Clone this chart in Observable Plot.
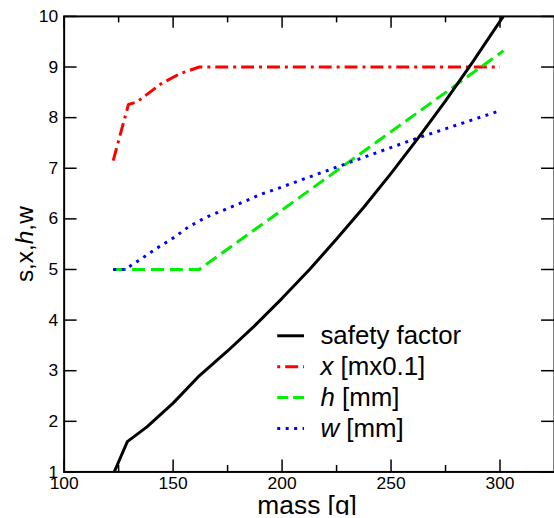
<!DOCTYPE html>
<html><head><meta charset="utf-8">
<script src="https://cdn.jsdelivr.net/npm/d3@7"></script>
<script src="https://cdn.jsdelivr.net/npm/@observablehq/plot@0.6"></script>
<style>html,body{margin:0;padding:0;overflow:hidden;background:#fff;width:554px;height:518px}</style>
</head><body><div id="chart"></div>
<script>
// ---- data ----
const sfMass  = [123, 126, 129, 138, 150, 162, 175, 187, 200, 212.6, 225, 237.5, 250, 262.5, 275, 287.5, 301.5];
const sfValue = [1.0, 1.3, 1.6, 1.89, 2.36, 2.9, 3.39, 3.87, 4.43, 5.0, 5.6, 6.23, 6.9, 7.6, 8.33, 9.1, 10.0];

const xMass  = [122.5, 129.5, 133.4, 144.5, 153.2, 162, 300];
const xValue = [7.15, 8.26, 8.31, 8.67, 8.87, 9.0, 9.0];

const hMass  = [122.5, 162, 301.6];
const hValue = [5.0, 5.0, 9.32];

const wMass  = [122.5, 128, 135, 142.5, 150, 157, 165, 173, 182, 190, 198, 230, 261, 299.5];
const wValue = [5.0, 5.0, 5.2, 5.42, 5.62, 5.84, 6.03, 6.17, 6.33, 6.48, 6.6, 7.1, 7.58, 8.13];

const xMajorTicks = [100, 150, 200, 250, 300];
const xMinorTicks = [125, 175, 225, 275];
const yTicks = [1, 2, 3, 4, 5, 6, 7, 8, 9, 10];

const legendLabels = ["safety factor", "x [mx0.1]", "h [mm]", "w [mm]"];
const xLabel = "mass [g]";
const yLabel = "s,x,h,w";

// ---- layout ----
const W = 557, H = 518, mL = 64, mR = 0, mT = 16, mB = 44;
const xDom = [100, 325], yDom = [1, 10];
const pxX = (W - mL - mR) / (xDom[1] - xDom[0]);
const pxY = (H - mT - mB) / (yDom[1] - yDom[0]);
const dx = p => p / pxX, dy = p => p / pxY;

const series = [
  {mass: xMass, val: xValue, stroke: "#ff0000", dash: "13,5,3,5"},
  {mass: hMass, val: hValue, stroke: "#00ee00", dash: "13,6"},
  {mass: wMass, val: wValue, stroke: "#0000ff", dash: "3,5.5"},
  {mass: sfMass, val: sfValue, stroke: "#000000", dash: null}
];
const toRows = s => s.mass.map((m, i) => ({m, v: s.val[i]}));

const legendStyles = [
  {stroke: "#000000", dash: null},
  {stroke: "#ff0000", dash: "3,5,13,5"},
  {stroke: "#00ee00", dash: "11,5"},
  {stroke: "#0000ff", dash: "3,5.5"}
];
const legX1 = 198, legX2 = 210.3, legTX = 217.6, legY0 = 3.69, legStep = 0.61;
const legRows = legendLabels.map((label, i) => ({label, i, y: legY0 - i * legStep}));

const marks = [];
for (const s of series) {
  marks.push(Plot.line(toRows(s), {x: "m", y: "v", stroke: s.stroke, strokeWidth: 3,
    strokeDasharray: s.dash, strokeLinecap: "butt", strokeLinejoin: "round", clip: true}));
}
// ticks (inward)
marks.push(Plot.ruleX(xMajorTicks, {y1: 1, y2: 1 + dy(12), stroke: "black", strokeWidth: 1.5}));
marks.push(Plot.ruleX(xMinorTicks, {y1: 1, y2: 1 + dy(6.5), stroke: "black", strokeWidth: 1.5}));
marks.push(Plot.ruleX(xMajorTicks, {y1: 10, y2: 10 - dy(12), stroke: "black", strokeWidth: 1.5}));
marks.push(Plot.ruleX(xMinorTicks, {y1: 10, y2: 10 - dy(6.5), stroke: "black", strokeWidth: 1.5}));
marks.push(Plot.ruleY(yTicks, {x1: 100, x2: 100 + dx(13), stroke: "black", strokeWidth: 1.5}));
marks.push(Plot.ruleY(yTicks, {x1: 325 - dx(13), x2: 325, stroke: "black", strokeWidth: 1.5}));
marks.push(Plot.frame({stroke: "black", strokeWidth: 2}));
// tick labels
marks.push(Plot.axisX(xMajorTicks, {tickSize: 0, tickPadding: 5, fontSize: 17.5, label: null, fill: "black",
  tickFormat: d => String(d)}));
marks.push(Plot.axisY(yTicks, {tickSize: 0, tickPadding: 6, fontSize: 17.5, label: null, fill: "black",
  tickFormat: d => String(d)}));
// axis titles
marks.push(Plot.text([xLabel], {x: () => 211.5, y: () => 1 - dy(42), text: d => d, fontSize: 26.5,
  lineAnchor: "bottom", textAnchor: "middle", fill: "black", clip: false}));
marks.push(Plot.text([yLabel], {x: () => 100 - dx(31), y: () => 5.5, text: d => d, fontSize: 24.5,
  rotate: -90, lineAnchor: "bottom", textAnchor: "middle", fill: "black", clip: false}));
// legend
legRows.forEach(r => {
  const st = legendStyles[r.i];
  marks.push(Plot.ruleY([r.y], {x1: legX1, x2: legX2, stroke: st.stroke, strokeWidth: 3, strokeDasharray: st.dash}));
});
marks.push(Plot.text(legRows, {x: () => legTX, y: "y", text: "label", fontSize: 26,
  textAnchor: "start", lineAnchor: "middle", fill: "black"}));

const chart = Plot.plot({
  width: W, height: H,
  marginLeft: mL, marginRight: mR, marginTop: mT, marginBottom: mB,
  x: {domain: xDom, axis: null},
  y: {domain: yDom, axis: null},
  style: {fontFamily: "'Liberation Sans', Arial, sans-serif", background: "white", color: "black"},
  marks
});
document.getElementById("chart").appendChild(chart);

// italicise variable names
const italicMap = {
  "s,x,h,w": [["s,x,", false], ["h", true], [",w", false]],
  "x [mx0.1]": [["x", true], [" [mx0.1]", false]],
  "h [mm]": [["h", true], [" [mm]", false]],
  "w [mm]": [["w", true], [" [mm]", false]]
};
d3.select(chart).selectAll("text").each(function () {
  const t = this.textContent;
  if (italicMap[t]) {
    const el = d3.select(this);
    el.text(null);
    for (const [s, it] of italicMap[t]) {
      el.append("tspan").attr("font-style", it ? "italic" : "normal").text(s);
    }
  }
});
</script></body></html>
